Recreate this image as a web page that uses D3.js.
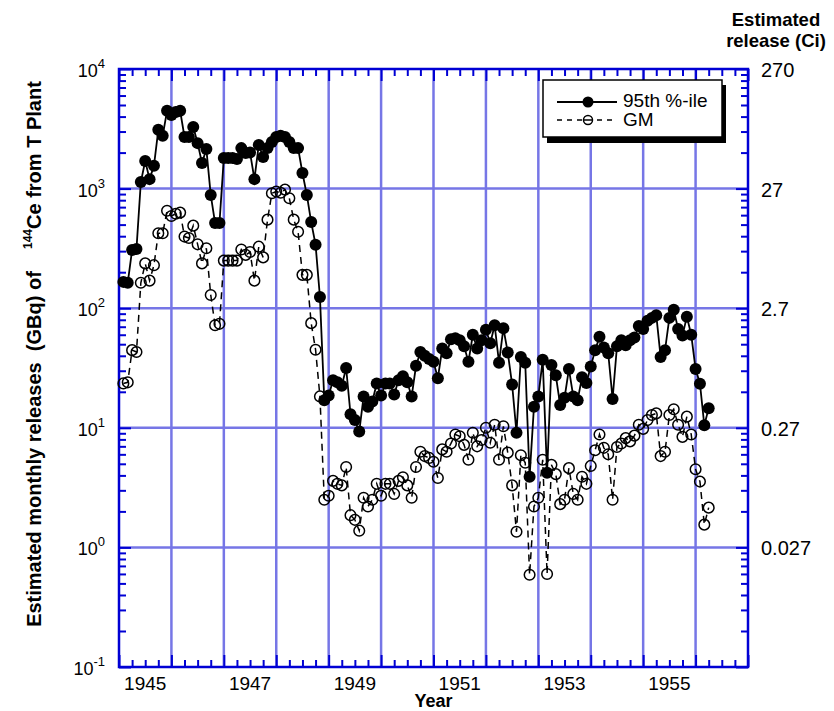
<!DOCTYPE html>
<html lang="en">
<head>
<meta charset="UTF-8">
<title>144Ce monthly releases from T Plant</title>
<script src="https://d3js.org/d3.v7.min.js"></script>
<style>
  body { margin: 0; background: #fff; }
  svg text { font-family: "Liberation Sans", Arial, Helvetica, sans-serif; fill: #000; }
</style>
</head>
<body>
<svg id="chart" width="834" height="711"></svg>
<script>
// one value per month, first value = January 1945
const startYear = 1945;
const p95 = [166, 163, 307, 313, 1135, 1700, 1200, 1550, 3100, 2760, 4470, 4120,
  4370, 4470, 2700, 2700, 3270, 2400, 1640, 2140, 885, 515, 515, 1800,
  1800, 1800, 1770, 2180, 1980, 2000, 1200, 2320, 1840, 2180, 2450, 2700,
  2760, 2700, 2450, 2180, 2180, 1350, 885, 525, 340, 124, 17, 18.6,
  25, 24, 22.5, 31.6, 13, 11.6, 9.3, 18.3, 15, 16.6, 23.5, 18.6,
  23.5, 23.5, 19, 25, 27, 24, 18.3, 33, 43, 40, 37.6, 35.6,
  26, 46, 42, 55, 56, 54, 48, 35.6, 60, 46, 54, 66,
  51, 72, 35, 68, 42.7, 23, 9.1, 39, 35, 3.9, 15, 18.3,
  37, 4.2, 33.5, 27.5, 15.5, 17.8, 31, 18.3, 17, 26.5, 23.7, 32.6,
  44.5, 57.6, 47, 42, 17.4, 48, 54, 49, 54, 57, 71, 67,
  78.5, 83, 87.5, 39, 44.5, 83, 97, 67, 59, 85, 60, 31,
  23.4, 10.5, 14.6];
const gm = [23.5, 24, 44.6, 43, 163, 237, 170, 229, 423, 423, 653, 590,
  617, 630, 397, 386, 490, 342, 237, 317, 129, 72, 74, 250,
  250, 250, 250, 310, 279, 295, 170, 327, 266, 550, 915, 945,
  922, 980, 830, 550, 435, 190, 190, 75, 45, 18.3, 2.5, 2.7,
  3.6, 3.4, 3.3, 4.7, 1.86, 1.7, 1.38, 2.6, 2.2, 2.5, 3.4, 2.7,
  3.4, 3.4, 2.8, 3.6, 3.86, 3.3, 2.6, 4.7, 6.3, 5.8, 5.6, 5.2,
  3.8, 6.6, 6.3, 7.4, 8.8, 8.5, 7.2, 5.4, 9.1, 7.0, 7.9, 10,
  7.5, 10.6, 5.4, 10.3, 6.2, 3.3, 1.35, 5.9, 5.1, 0.59, 2.2, 2.6,
  5.4, 0.6, 4.9, 4.1, 2.3, 2.5, 4.6, 2.8, 2.5, 3.9, 3.4, 4.8,
  6.5, 8.8, 6.8, 6.0, 2.5, 6.9, 7.4, 8.2, 7.7, 8.6, 10.6, 9.8,
  11.6, 12.8, 13.2, 5.8, 6.3, 12.8, 14.3, 10.6, 8.4, 12.4, 8.8, 4.5,
  3.55, 1.55, 2.15];
const yearLabels = [1945, 1947, 1949, 1951, 1953, 1955];
const gbqTicks = [0.1, 1, 10, 100, 1000, 10000];
const gbqExp = ["-1", "0", "1", "2", "3", "4"];
const ciLabels = ["", "0.027", "0.27", "2.7", "27", "270"];
const seriesNames = ["95th %-ile", "GM"];

const svg = d3.select("#chart");
const mLeft = 119, mRight = 748, mTop = 69, mBottom = 667;
const blue = "#0000d4";
const gridBlue = "#7676e6";

// month i is plotted at the end of that month
const xVal = i => startYear + (i + 1) / 12;

const x = d3.scaleLinear().domain([1945, 1957]).range([mLeft, mRight]);
const y = d3.scaleLog().domain([0.1, 10000]).range([mBottom, mTop]);

const years = d3.range(1945, 1958);
const quarters = d3.range(1945, 1957, 0.25).filter(v => v % 1 !== 0);
const minorY = [];
gbqTicks.slice(0, -1).forEach(d => { for (let k = 2; k <= 9; k++) minorY.push(d * k); });

// grid
svg.append("g").selectAll("line").data(years.slice(1, -1)).enter().append("line")
  .attr("x1", d => x(d)).attr("x2", d => x(d)).attr("y1", mTop).attr("y2", mBottom)
  .attr("stroke", gridBlue).attr("stroke-width", 2.5);
svg.append("g").selectAll("line").data(gbqTicks.slice(1, -1)).enter().append("line")
  .attr("x1", mLeft).attr("x2", mRight).attr("y1", d => y(d)).attr("y2", d => y(d))
  .attr("stroke", gridBlue).attr("stroke-width", 2.5);

// axes: ticks point inwards
function styleAxis(g) {
  g.select(".domain").remove();
  g.selectAll(".tick line").attr("stroke", blue).attr("stroke-width", 2);
  g.selectAll(".tick text").remove();
}
svg.append("g").attr("transform", `translate(0,${mBottom})`)
  .call(d3.axisBottom(x).tickValues(years).tickSize(-12)).call(styleAxis);
svg.append("g").attr("transform", `translate(0,${mBottom})`)
  .call(d3.axisBottom(x).tickValues(quarters).tickSize(-7)).call(styleAxis);
svg.append("g").attr("transform", `translate(0,${mTop})`)
  .call(d3.axisTop(x).tickValues(years).tickSize(-12)).call(styleAxis);
svg.append("g").attr("transform", `translate(0,${mTop})`)
  .call(d3.axisTop(x).tickValues(quarters).tickSize(-7)).call(styleAxis);
svg.append("g").attr("transform", `translate(${mLeft},0)`)
  .call(d3.axisLeft(y).tickValues(gbqTicks).tickSize(-12)).call(styleAxis);
svg.append("g").attr("transform", `translate(${mLeft},0)`)
  .call(d3.axisLeft(y).tickValues(minorY).tickSize(-7)).call(styleAxis);
svg.append("g").attr("transform", `translate(${mRight},0)`)
  .call(d3.axisRight(y).tickValues(gbqTicks).tickSize(-12)).call(styleAxis);
svg.append("g").attr("transform", `translate(${mRight},0)`)
  .call(d3.axisRight(y).tickValues(minorY).tickSize(-7)).call(styleAxis);

svg.append("rect").attr("x", mLeft).attr("y", mTop)
  .attr("width", mRight - mLeft).attr("height", mBottom - mTop)
  .attr("fill", "none").attr("stroke", blue).attr("stroke-width", 2.5);

// tick labels
svg.append("g").selectAll("text").data(yearLabels).enter().append("text")
  .attr("x", d => x(d + 0.5)).attr("y", mBottom + 23)
  .attr("text-anchor", "middle").attr("font-size", 19)
  .text(d => d);

const yl = svg.append("g").selectAll("text").data(gbqTicks).enter().append("text")
  .attr("x", 105).attr("y", d => y(d) + 8)
  .attr("text-anchor", "end").attr("font-size", 18);
yl.append("tspan").text("10");
yl.append("tspan").attr("font-size", 13).attr("dy", -9).text((d, i) => gbqExp[i]);

svg.append("g").selectAll("text").data(gbqTicks).enter().append("text")
  .attr("x", 761).attr("y", d => y(d) + 8)
  .attr("font-size", 20)
  .text((d, i) => ciLabels[i]);

// axis titles
svg.append("text").attr("x", (mLeft + mRight) / 2).attr("y", 707)
  .attr("text-anchor", "middle").attr("font-size", 18).attr("font-weight", "bold")
  .text("Year");
svg.append("text").attr("x", 776).attr("y", 26)
  .attr("text-anchor", "middle").attr("font-size", 18.5).attr("font-weight", "bold")
  .text("Estimated");
svg.append("text").attr("x", 776).attr("y", 47)
  .attr("text-anchor", "middle").attr("font-size", 18.5).attr("font-weight", "bold")
  .text("release (Ci)");

const yt = svg.append("text")
  .attr("transform", "translate(41,354) rotate(-90)")
  .attr("text-anchor", "middle").attr("font-size", 20).attr("font-weight", "bold")
  .attr("xml:space", "preserve");
yt.append("tspan").text("Estimated monthly releases  (GBq) of    ");
yt.append("tspan").attr("font-size", 12).attr("dy", -9).text("144");
yt.append("tspan").attr("dy", 9).text("Ce from T Plant");

// series
const line = d3.line().x((d, i) => x(xVal(i))).y(d => y(d));

svg.append("path").datum(gm).attr("d", line)
  .attr("fill", "none").attr("stroke", "#000").attr("stroke-width", 1.5)
  .attr("stroke-dasharray", "7,5");
svg.append("g").selectAll("circle").data(gm).enter().append("circle")
  .attr("cx", (d, i) => x(xVal(i))).attr("cy", d => y(d)).attr("r", 5.3)
  .attr("fill", "none").attr("stroke", "#000").attr("stroke-width", 1.5);

svg.append("path").datum(p95).attr("d", line)
  .attr("fill", "none").attr("stroke", "#000").attr("stroke-width", 1.8);
svg.append("g").selectAll("circle").data(p95).enter().append("circle")
  .attr("cx", (d, i) => x(xVal(i))).attr("cy", d => y(d)).attr("r", 6)
  .attr("fill", "#000");

// legend
const lg = svg.append("g").attr("transform", "translate(543,80)");
lg.append("rect").attr("x", 4).attr("y", 5).attr("width", 179).attr("height", 58).attr("fill", "#000");
lg.append("rect").attr("x", 0).attr("y", 0).attr("width", 179).attr("height", 57)
  .attr("fill", "#fff").attr("stroke", "#000").attr("stroke-width", 1.5);
lg.append("line").attr("x1", 14).attr("x2", 74).attr("y1", 22).attr("y2", 22)
  .attr("stroke", "#000").attr("stroke-width", 1.8);
lg.append("circle").attr("cx", 45).attr("cy", 22).attr("r", 5.5).attr("fill", "#000");
lg.append("line").attr("x1", 14).attr("x2", 74).attr("y1", 40).attr("y2", 40)
  .attr("stroke", "#000").attr("stroke-width", 1.5).attr("stroke-dasharray", "5,5");
lg.append("circle").attr("cx", 45).attr("cy", 40).attr("r", 4.5)
  .attr("fill", "#fff").attr("stroke", "#000").attr("stroke-width", 1.5);
lg.append("line").attr("x1", 41).attr("x2", 49).attr("y1", 40).attr("y2", 40)
  .attr("stroke", "#000").attr("stroke-width", 1.5);
lg.selectAll("text.lab").data(seriesNames).enter().append("text")
  .attr("x", 80).attr("y", (d, i) => 27 + i * 19)
  .attr("font-size", 19).text(d => d);
</script>
</body>
</html>
